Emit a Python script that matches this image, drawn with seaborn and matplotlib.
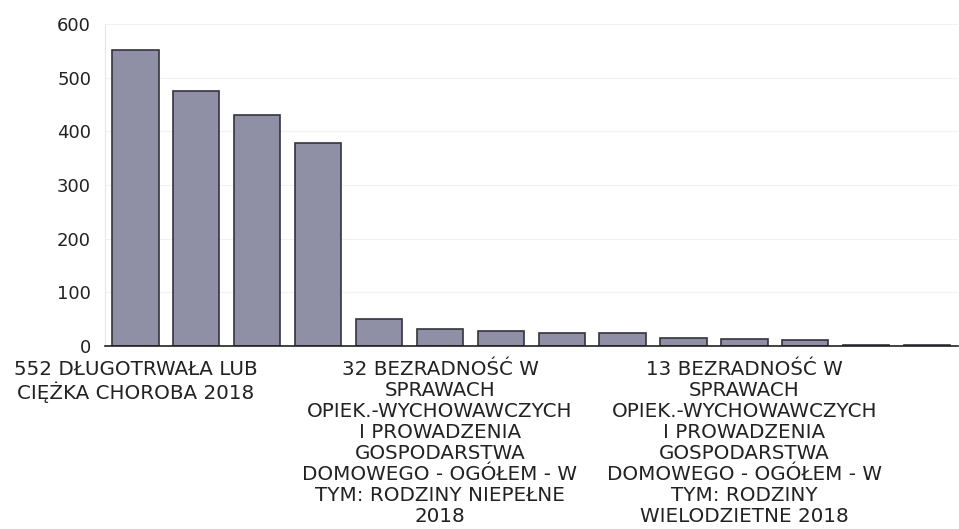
import matplotlib
matplotlib.use("Agg")
import matplotlib.pyplot as plt
import seaborn as sns
import pandas as pd

# values, sorted as in the original chart
values = [552, 475, 430, 378, 50, 32, 28, 25, 24, 14, 13, 12, 1, 1]
categories = [
    "552 DŁUGOTRWAŁA LUB\nCIĘŻKA CHOROBA 2018",
    "kat. 2", "kat. 3", "kat. 4", "kat. 5",
    "32 BEZRADNOŚĆ W\nSPRAWACH\nOPIEK.-WYCHOWAWCZYCH\nI PROWADZENIA\nGOSPODARSTWA\nDOMOWEGO - OGÓŁEM - W\nTYM: RODZINY NIEPEŁNE\n2018",
    "kat. 7", "kat. 8", "kat. 9", "kat. 10",
    "13 BEZRADNOŚĆ W\nSPRAWACH\nOPIEK.-WYCHOWAWCZYCH\nI PROWADZENIA\nGOSPODARSTWA\nDOMOWEGO - OGÓŁEM - W\nTYM: RODZINY\nWIELODZIETNE 2018",
    "kat. 12", "kat. 13", "kat. 14",
]
yticks = [0, 100, 200, 300, 400, 500, 600]

df = pd.DataFrame({"kategoria": categories, "liczba": values})

sns.set_style("white")
plt.rcParams["font.family"] = ["DejaVu Sans"]

fig = plt.figure(figsize=(9.59, 5.29), dpi=100)
ax = fig.add_axes([0.1095, 0.346, 0.889, 0.6086])

sns.barplot(data=df, x="kategoria", y="liczba", color="#8f8fa5",
            edgecolor="#34343f", linewidth=1.2, width=0.76, saturation=1, ax=ax)

ax.set_ylim(0, 600)
ax.set_yticks(yticks)
ax.set_yticklabels([str(t) for t in yticks], fontsize=13, color="#222222")
ax.yaxis.grid(True, color="#f2f2f2", linewidth=0.8)
ax.set_axisbelow(True)

# only every fifth category gets a visible label, like the original
ax.set_xticks(range(len(categories)))
ax.set_xticklabels([c if i % 5 == 0 else "" for i, c in enumerate(categories)],
                   fontsize=14.3, color="#222222", linespacing=1.13)
ax.tick_params(axis="both", length=0)
ax.tick_params(axis="y", pad=10)
ax.tick_params(axis="x", pad=10)
ax.set_xlabel("")
ax.set_ylabel("")

for side in ["top", "right"]:
    ax.spines[side].set_visible(False)
ax.spines["left"].set_color("#e6e6e6")
ax.spines["bottom"].set_color("#222222")
ax.spines["bottom"].set_linewidth(1.2)

fig.savefig("out.png", dpi=100)
